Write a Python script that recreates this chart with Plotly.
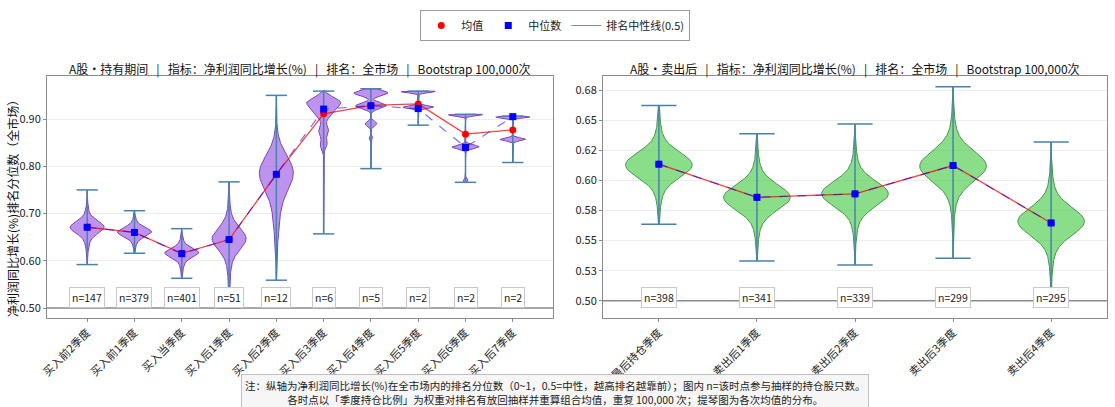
import numpy as np
import plotly.graph_objects as go

FONT = "Noto Sans CJK SC"

# ---------------- data ----------------
left_cats = ["买入前2季度", "买入前1季度", "买入当季度", "买入后1季度", "买入后2季度",
             "买入后3季度", "买入后4季度", "买入后5季度", "买入后6季度", "买入后7季度"]
left_n = [147, 379, 401, 51, 12, 6, 5, 2, 2, 2]
left_mean = [0.671, 0.660, 0.616, 0.645, 0.783, 0.911, 0.929, 0.932, 0.868, 0.877]
left_median = [0.671, 0.660, 0.615, 0.645, 0.783, 0.921, 0.928, 0.922, 0.840, 0.905]
left_lo = [0.592, 0.616, 0.563, 0.500, 0.559, 0.657, 0.795, 0.887, 0.766, 0.808]
left_hi = [0.750, 0.706, 0.668, 0.767, 0.950, 0.959, 0.964, 0.959, 0.910, 0.906]
# density modes: (centre, spread, relative weight)
left_modes = [
    [(0.671, 0.012, 1.0), (0.668, 0.028, 0.3)],
    [(0.661, 0.009, 1.0), (0.660, 0.020, 0.3)],
    [(0.617, 0.009, 1.0), (0.615, 0.022, 0.3)],
    [(0.647, 0.022, 1.0), (0.640, 0.050, 0.25)],
    [(0.788, 0.035, 1.0), (0.740, 0.070, 0.3)],
    [(0.935, 0.011, 1.0), (0.912, 0.010, 0.45), (0.875, 0.012, 0.3), (0.845, 0.008, 0.2)],
    [(0.955, 0.006, 1.0), (0.928, 0.006, 0.9), (0.890, 0.005, 0.35), (0.860, 0.003, 0.1)],
    [(0.958, 0.0025, 1.0), (0.925, 0.003, 0.9), (0.940, 0.010, 0.03)],
    [(0.909, 0.0025, 1.0), (0.841, 0.004, 0.8), (0.770, 0.003, 0.15)],
    [(0.904, 0.002, 1.0), (0.857, 0.003, 0.75)],
]
left_yticks = [0.5, 0.6, 0.7, 0.8, 0.9]
left_yticktext = ["0.50", "0.60", "0.70", "0.80", "0.90"]

right_cats = ["最后持仓季度", "卖出后1季度", "卖出后2季度", "卖出后3季度", "卖出后4季度"]
right_n = [398, 341, 339, 299, 295]
right_mean = [0.6136, 0.5860, 0.5889, 0.6125, 0.5647]
right_median = [0.6136, 0.5860, 0.5889, 0.6125, 0.5647]
right_lo = [0.5636, 0.5330, 0.5297, 0.5353, 0.5000]
right_hi = [0.6625, 0.6390, 0.6470, 0.6780, 0.6320]
right_modes = [
    [(0.613, 0.010, 1.0), (0.613, 0.022, 0.2)],
    [(0.586, 0.010, 1.0), (0.586, 0.022, 0.2)],
    [(0.589, 0.010, 1.0), (0.589, 0.022, 0.2)],
    [(0.612, 0.012, 1.0), (0.612, 0.025, 0.2)],
    [(0.566, 0.011, 1.0), (0.566, 0.024, 0.2)],
]
right_yticks = [0.5, 0.525, 0.55, 0.575, 0.6, 0.625, 0.65, 0.675]
right_yticktext = ["0.50", "0.53", "0.55", "0.58", "0.60", "0.62", "0.65", "0.68"]

left_title = "A股・持有期间   |   指标：净利润同比增长(%)   |   排名：全市场   |   Bootstrap 100,000次"
right_title = "A股・卖出后   |   指标：净利润同比增长(%)   |   排名：全市场   |   Bootstrap 100,000次"
ylabel = "净利润同比增长(%)排名分位数（全市场）"
note = ("注：纵轴为净利润同比增长(%)在全市场内的排名分位数（0~1，0.5=中性，越高排名越靠前）；图内 n=该时点参与抽样的持仓股只数。<br>"
        "各时点以「季度持仓比例」为权重对排名有放回抽样并重算组合均值，重复 100,000 次；提琴图为各次均值的分布。")

# ---------------- figure ----------------
W, H = 1115, 407
fig = go.Figure()

WHISKER = "rgb(70,130,175)"


def add_panel(xa, ya, cats, modes, lo, hi, mean, median, fill, edge, width, cap):
    for i, (md, a, b) in enumerate(zip(modes, lo, hi)):
        ys = np.linspace(a, b, 300)
        d = np.zeros_like(ys)
        for c, s, w in md:
            d += w * np.exp(-0.5 * ((ys - c) / s) ** 2)
        d = d / d.max() * width / 2
        xs = np.concatenate([i + d, (i - d)[::-1]])
        yy = np.concatenate([ys, ys[::-1]])
        fig.add_trace(go.Scatter(x=xs, y=yy, fill="toself", fillcolor=fill, mode="lines",
                                 line=dict(color=edge, width=1), xaxis=xa, yaxis=ya,
                                 showlegend=False, hoverinfo="skip"))
        # whisker + caps
        fig.add_trace(go.Scatter(x=[i, i, None, i - cap / 2, i + cap / 2, None, i - cap / 2, i + cap / 2],
                                 y=[a, b, None, a, a, None, b, b], mode="lines",
                                 line=dict(color=WHISKER, width=1.5), xaxis=xa, yaxis=ya,
                                 showlegend=False, hoverinfo="skip"))
    xs = list(range(len(cats)))
    fig.add_trace(go.Scatter(x=xs, y=mean, mode="lines", line=dict(color="rgba(255,0,0,0.75)", width=1.3),
                             xaxis=xa, yaxis=ya, showlegend=False))
    fig.add_trace(go.Scatter(x=xs, y=median, mode="lines",
                             line=dict(color="rgba(0,0,255,0.55)", width=1.2, dash="dash"),
                             xaxis=xa, yaxis=ya, showlegend=False))
    fig.add_trace(go.Scatter(x=xs, y=mean, mode="markers", marker=dict(color="#ff0000", size=7, symbol="circle"),
                             xaxis=xa, yaxis=ya, showlegend=False))
    fig.add_trace(go.Scatter(x=xs, y=median, mode="markers",
                             marker=dict(color="#0000ff", size=7, symbol="square"),
                             xaxis=xa, yaxis=ya, showlegend=False))
    # neutral line
    fig.add_trace(go.Scatter(x=[-5, len(cats) + 5], y=[0.5, 0.5], mode="lines",
                             line=dict(color="#8c8c8c", width=1.6), xaxis=xa, yaxis=ya,
                             showlegend=False, hoverinfo="skip"))


add_panel("x", "y", left_cats, left_modes, left_lo, left_hi, left_mean, left_median,
          "rgba(150,80,228,0.62)", "rgb(120,70,180)", 0.72, 0.45)
add_panel("x2", "y2", right_cats, right_modes, right_lo, right_hi, right_mean, right_median,
          "rgba(60,200,60,0.6)", "rgb(70,150,70)", 0.68, 0.36)

# legend entries
fig.add_trace(go.Scatter(x=[None], y=[None], mode="markers", name="均值",
                         marker=dict(color="#ff0000", size=7, symbol="circle")))
fig.add_trace(go.Scatter(x=[None], y=[None], mode="markers", name="中位数",
                         marker=dict(color="#0000ff", size=7, symbol="square")))
fig.add_trace(go.Scatter(x=[None], y=[None], mode="lines", name="排名中性线(0.5)",
                         line=dict(color="#8c8c8c", width=1.2)))

# n labels
for xa, cats, ns in [("x", left_cats, left_n), ("x2", right_cats, right_n)]:
    ya = "y" if xa == "x" else "y2"
    for i, n in enumerate(ns):
        fig.add_annotation(x=i, y=0.04, xref=xa, yref=f"{ya} domain", text=f"n={n}", showarrow=False,
                           font=dict(size=10.5, color="#222", family=FONT), bgcolor="white",
                           bordercolor="#c8c8c8", borderwidth=1, borderpad=2)

L0, L1 = 47 / W, 553 / W
R0, R1 = 603 / W, 1107 / W
Y0, Y1 = 1 - 318 / H, 1 - 76 / H

axis_common = dict(showline=True, mirror=True, linecolor="#8a8a8a", linewidth=1,
                   ticks="outside", ticklen=3, tickcolor="#8a8a8a",
                   tickfont=dict(size=11, color="#222", family=FONT), zeroline=False)

fig.update_layout(
    width=W, height=H, margin=dict(l=0, r=0, t=0, b=0, autoexpand=False),
    paper_bgcolor="white", plot_bgcolor="white",
    font=dict(family=FONT, color="#222"),
    xaxis=dict(domain=[L0, L1], range=[-0.85, 9.85], tickvals=list(range(len(left_cats))),
               ticktext=left_cats, tickangle=-45, showgrid=False, anchor="y", **axis_common),
    yaxis=dict(domain=[Y0, Y1], range=[0.479, 0.991], tickvals=left_yticks, ticktext=left_yticktext,
               showgrid=True, gridcolor="rgba(0,0,0,0.07)", anchor="x", **axis_common),
    xaxis2=dict(domain=[R0, R1], range=[-0.57, 4.57], tickvals=list(range(len(right_cats))),
                ticktext=right_cats, tickangle=-45, showgrid=False, anchor="y2", **axis_common),
    yaxis2=dict(domain=[Y0, Y1], range=[0.4856, 0.687], tickvals=right_yticks, ticktext=right_yticktext,
                showgrid=True, gridcolor="rgba(0,0,0,0.07)", anchor="x2", **axis_common),
    legend=dict(orientation="h", x=0.498, xanchor="center", y=1 - 10 / H, yanchor="top",
                bordercolor="#9a9a9a", borderwidth=1, bgcolor="white",
                font=dict(size=11, family=FONT), itemwidth=30, tracegroupgap=0),
    showlegend=True,
)

fig.add_annotation(x=(L0 + L1) / 2, y=1 - 69 / H, xref="paper", yref="paper", text=left_title,
                   showarrow=False, font=dict(size=12, family=FONT, color="#111"),
                   xanchor="center", yanchor="middle")
fig.add_annotation(x=(R0 + R1) / 2, y=1 - 69 / H, xref="paper", yref="paper", text=right_title,
                   showarrow=False, font=dict(size=12, family=FONT, color="#111"),
                   xanchor="center", yanchor="middle")
fig.add_annotation(x=12 / W, y=1 - 206 / H, xref="paper", yref="paper", text=ylabel, textangle=-90,
                   showarrow=False, font=dict(size=12, family=FONT, color="#111"),
                   xanchor="center", yanchor="middle")
fig.add_annotation(x=0.498, y=1 - 374 / H, xref="paper", yref="paper", text=note, showarrow=False,
                   yanchor="top", xanchor="center", align="center",
                   font=dict(size=10.5, family=FONT, color="#222"), bgcolor="#f6f6f6",
                   bordercolor="#c0c0c0", borderwidth=1, borderpad=3)

fig.write_html("out.html", config={"displayModeBar": False},
               post_script="document.body.style.margin='0';document.body.style.overflow='hidden';")
